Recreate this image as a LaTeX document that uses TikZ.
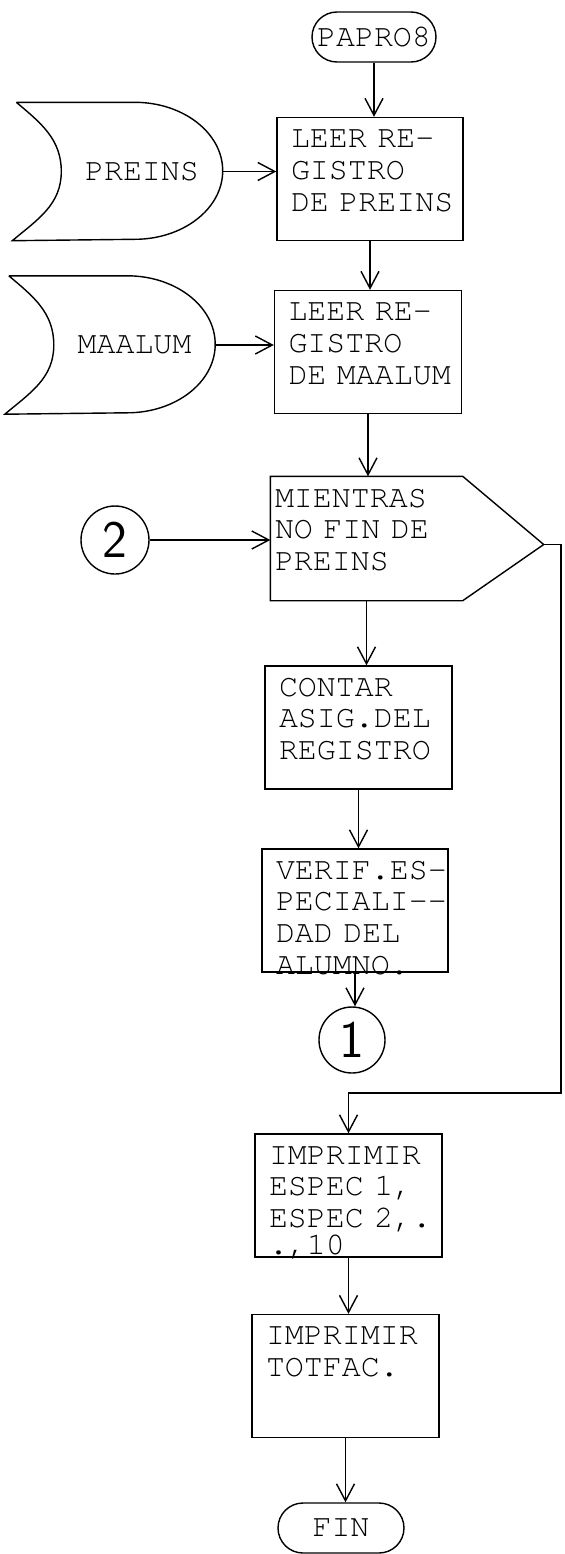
\documentclass[tikz,border=0pt]{standalone}
\usepackage{fontspec}
\setmonofont{TeX Gyre Cursor}
\usetikzlibrary{arrows.meta,calc}

\begin{document}
\spaceskip=10.8pt\relax
\begin{tikzpicture}[
  line width=0.8pt,
  font=\ttfamily\fontsize{18}{18.2}\selectfont,
  arr/.style={-{Straight Barb[length=0.34cm,width=0.36cm]}},
  procbox/.style={draw, align=left, inner xsep=0.28cm, inner ysep=0.24cm,
                  text height=0.36cm, text depth=1.62cm},
  terminal/.style={draw, rounded corners=0.5cm, minimum height=1.0cm,
                   inner sep=0pt},
  tape/.style={minimum width=3.2cm, minimum height=2.74cm, inner sep=0pt},
  connector/.style={draw, circle, inner sep=0pt,
                    font=\sffamily\fontsize{30}{30}\selectfont},
]
\useasboundingbox (0,0) rectangle (11.28,-31.08);

% -------------------------------------------------------------------------
% Start and reading of the two files
% -------------------------------------------------------------------------
\node[terminal, minimum width=2.48cm] (start) at (7.48,-0.74) {PAPRO8};

\node[procbox, text width=3.16cm] (leerpre) at (7.40,-3.58)
  {LEER~RE-\\GISTRO\\DE~PREINS};
\node[procbox, text width=3.18cm] (leermaa) at (7.36,-7.04)
  {LEER~RE-\\GISTRO\\DE~MAALUM};

\node[tape] (preins) at (2.84,-3.43) {PREINS};
\draw ([xshift=-0.90cm]preins.north west) -- ([xshift=-1.76cm]preins.north east)
  arc[start angle=90, end angle=-90, x radius=1.76cm, y radius=1.37cm]
  -- ([xshift=-0.98cm]preins.south west)
  to[out=40, in=-90] (preins.west)
  to[out=90, in=-40] ([xshift=-0.90cm]preins.north west);

\node[tape] (maalum) at (2.69,-6.90) {MAALUM};
\draw ([xshift=-0.90cm]maalum.north west) -- ([xshift=-1.76cm]maalum.north east)
  arc[start angle=90, end angle=-90, x radius=1.76cm, y radius=1.37cm]
  -- ([xshift=-0.98cm]maalum.south west)
  to[out=40, in=-90] (maalum.west)
  to[out=90, in=-40] ([xshift=-0.90cm]maalum.north west);

% -------------------------------------------------------------------------
% Loop over PREINS
% -------------------------------------------------------------------------
\node[procbox, draw=none, inner xsep=0.08cm, text width=3.66cm] (mientras)
  at (7.33,-10.77) {MIENTRAS\\NO~FIN~DE\\PREINS};
\draw (mientras.south west) -- (mientras.north west) -- (mientras.north east)
  -- ([shift={(1.62cm,-0.12cm)}]mientras.east) coordinate (looptip)
  -- (mientras.south east) -- cycle;

\node[connector, minimum size=1.36cm] (conn2) at (2.30,-10.80) {2};

\node[procbox, text width=3.18cm] (contar) at (7.17,-14.55)
  {CONTAR\\ASIG.DEL\\REGISTRO};
\node[procbox, text width=3.16cm] (verif) at (7.10,-18.21)
  {VERIF.ES-\\PECIALI--\\DAD~DEL\\ALUMNO.};

\node[connector, minimum size=1.32cm] (conn1) at (7.04,-20.80) {1};

% -------------------------------------------------------------------------
% Printing and end
% -------------------------------------------------------------------------
\node[procbox, text width=3.18cm] (imprime) at (6.97,-23.91)
  {IMPRIMIR\\ESPEC~1,\\ESPEC~2,.\\[-0.1cm].,10};
\node[procbox, text width=3.18cm] (totfac) at (6.91,-27.52)
  {IMPRIMIR\\TOTFAC.};
\node[terminal, minimum width=2.52cm] (fin) at (6.82,-30.56) {FIN};

\coordinate (loopret) at (11.22,-21.86);

% connectors
\draw[arr] (start.south) -- (start.south |- leerpre.north);
\draw[arr] (preins.east) -- (preins.east -| leerpre.west);
\draw[arr] (leerpre.south) -- (leerpre.south |- leermaa.north);
\draw[arr] (maalum.east) -- (maalum.east -| leermaa.west);
\draw[arr] (leermaa.south) -- (leermaa.south |- mientras.north);
\draw[arr] (conn2.east) -- (conn2.east -| mientras.west);
\draw[arr] (mientras.south) -- (mientras.south |- contar.north);
\draw[arr] (contar.south) -- (contar.south |- verif.north);
\draw[arr] (verif.south) -- (verif.south |- conn1.north);
\draw[arr] (looptip) -| (loopret) -| (imprime.north);
\draw[arr] (imprime.south) -- (imprime.south |- totfac.north);
\draw[arr] (totfac.south) -- (totfac.south |- fin.north);

\end{tikzpicture}
\end{document}
